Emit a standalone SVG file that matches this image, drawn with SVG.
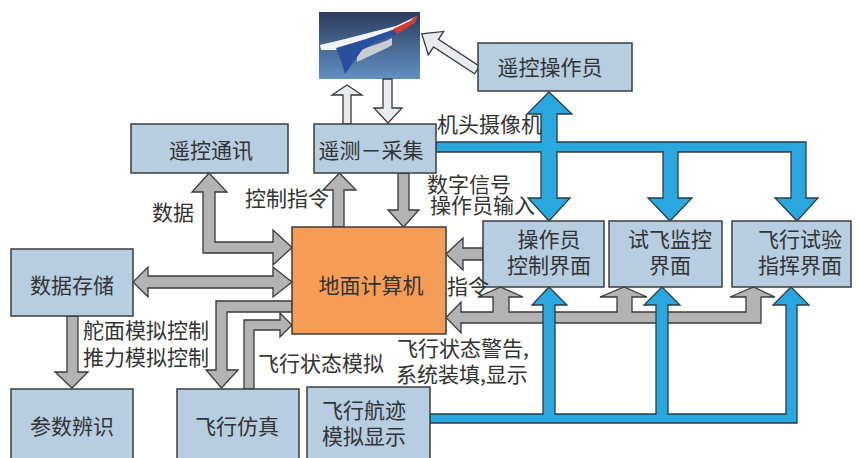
<svg xmlns="http://www.w3.org/2000/svg" width="860" height="458" viewBox="0 0 860 458">
  <defs>
    <linearGradient id="sky" x1="0" y1="0" x2="0" y2="1">
      <stop offset="0" stop-color="#2c3d5e"/>
      <stop offset="1" stop-color="#6290c2"/>
    </linearGradient>
    <style>
      .box { fill: #b7cde1; stroke: #3d3d3d; stroke-width: 1.5; }
      .cpu { fill: #f59d56; stroke: #3d3d3d; stroke-width: 1.5; }
      .gray { fill: #b3b3b3; stroke: #3a3a3a; stroke-width: 1.3; stroke-linejoin: miter; }
      .blue { fill: #29a7df; stroke: #2f3a44; stroke-width: 1.3; stroke-linejoin: miter; }
      .hollow { fill: #e9ebef; stroke: #3a3a3a; stroke-width: 1.3; }
      text { font-family: "Noto Sans CJK SC", "Noto Sans", sans-serif; font-size: 21px; fill: #333; }
      .c { text-anchor: middle; }
    </style>
  </defs>

  <rect width="860" height="458" fill="#fff"/>

  <!-- aircraft picture -->
  <g id="aircraft">
    <rect x="319" y="12" width="101" height="67" fill="url(#sky)"/>
    <polygon points="320,45 345,39 372,32 396,26 417,16 414,23 396,31 366,41 339,50 321,50" fill="#f2f4f7"/>
    <polygon points="357,51 386,41 392,38 392,45 387,48 372,55 357,62" fill="#c9ccd2"/>
    <polygon points="336,48 366,39 395,29 397,34 376,42 362,50 355,60 345,74 341,61" fill="#2a4f9e"/>
    <polygon points="393,29 410,21 417,15 416,21 410,26 397,34" fill="#d63a35"/>
  </g>

  <g id="connectors">
    <!-- aircraft links -->
    <polygon class="hollow" points="343,124 343,95 332,95 347,85 362,95 351,95 351,124"/>
    <polygon class="hollow" points="383,79 383,108 374,108 388,123 402,108 392,108 392,79"/>
    <polygon class="hollow" transform="translate(477,70) rotate(213.2)" points="0,-4.5 49,-4.5 49,-14 66,0 49,14 49,4.5 0,4.5"/>

    <!-- 数据 to 遥控通讯 and 地面计算机 -->
    <polygon class="gray" points="203,253 203,192 192,192 209,173 227,192 215,192 215,242 273,242 273,230 292,247.5 273,265 273,253"/>
    <!-- 数据存储 <-> 地面计算机 -->
    <polygon class="gray" points="133,282 148,267 148,276 273,276 273,267 292,282 273,297 273,288 148,288 148,297"/>
    <!-- 地面计算机 to 飞行仿真 -->
    <polygon class="gray" points="292,301 216,301 216,370 206,370 221.5,388 238,370 227,370 227,312 292,312"/>
    <!-- 飞行仿真 to 地面计算机 -->
    <polygon class="gray" points="244,389 244,320 280,320 280,313 292,325 280,337 280,330 254,330 254,389"/>
    <!-- 数据存储 to 参数辨识 -->
    <polygon class="gray" points="67,316 67,372 55,372 72,388 88,372 78,372 78,316"/>
    <!-- 控制指令 up to 遥测 -->
    <polygon class="gray" points="333,227 333,190 323,190 339.5,173 356,190 344,190 344,227"/>
    <!-- 遥测 down to 地面计算机 -->
    <polygon class="gray" points="398,173 398,210 388,210 403.5,227 419,210 409,210 409,173"/>
    <!-- 操作员输入 -->
    <polygon class="gray" points="483,248 463,248 463,238 446,254 463,270 463,260 483,260"/>
    <!-- 指令 bus to interfaces, status back to 地面计算机 -->
    <polygon class="gray" points="761,323 761,297 775,297 753.5,287 730,297 746,297 746,312 632,312 632,297 647,297 624,287 600,297 617,297 617,312 509,312 509,297 523,297 500.5,287 478,297 493,297 493,312 461,312 461,302 446,317.5 461,333 461,323"/>

    <!-- camera video bus -->
    <polygon class="blue" points="436,142 541,142 541,114 527,114 549,92 572,114 557,114 557,142 806,142 806,198 818,198 797,221 775,198 791,198 791,152 678,152 678,198 692,198 670,221 648,198 663,198 663,152 557,152 557,198 570,198 549,221 528,198 541,198 541,152 436,152"/>
    <!-- trajectory display bus -->
    <polygon class="blue" points="430,414 543,414 543,305 532,305 549,287 567,305 555,305 555,414 656,414 656,305 644,305 662,287 680,305 668,305 668,414 786,414 786,305 773,305 791,287 809,305 797,305 797,423 430,423"/>
  </g>

  <g id="n-remote-operator">
    <rect class="box" x="478" y="43" width="154" height="48"/>
    <text class="c" x="550" y="75">遥控操作员</text>
  </g>
  <g id="n-remote-comm">
    <rect class="box" x="131" y="124" width="157" height="49"/>
    <text class="c" x="211" y="158">遥控通讯</text>
  </g>
  <g id="n-telemetry">
    <rect class="box" x="314" y="124" width="122" height="49"/>
    <text class="c" x="371" y="158">遥测－采集</text>
  </g>
  <g id="n-ground-computer">
    <rect class="cpu" x="292" y="227" width="154" height="107"/>
    <text class="c" x="371" y="293">地面计算机</text>
  </g>
  <g id="n-operator-ui">
    <rect class="box" x="483" y="221" width="121" height="66"/>
    <text class="c" x="549" y="247">操作员</text>
    <text class="c" x="549" y="273">控制界面</text>
  </g>
  <g id="n-monitor-ui">
    <rect class="box" x="609" y="221" width="113" height="66"/>
    <text class="c" x="670" y="247">试飞监控</text>
    <text class="c" x="670" y="273">界面</text>
  </g>
  <g id="n-command-ui">
    <rect class="box" x="732" y="221" width="119" height="66"/>
    <text class="c" x="800" y="247">飞行试验</text>
    <text class="c" x="800" y="273">指挥界面</text>
  </g>
  <g id="n-storage">
    <rect class="box" x="11" y="249" width="122" height="67"/>
    <text class="c" x="72" y="293">数据存储</text>
  </g>
  <g id="n-identification">
    <rect class="box" x="11" y="389" width="122" height="80"/>
    <text class="c" x="72" y="434">参数辨识</text>
  </g>
  <g id="n-flight-sim">
    <rect class="box" x="177" y="389" width="122" height="80"/>
    <text class="c" x="237" y="434">飞行仿真</text>
  </g>
  <g id="n-track-display">
    <rect class="box" x="307" y="387" width="123" height="82"/>
    <text class="c" x="364" y="418">飞行航迹</text>
    <text class="c" x="364" y="444">模拟显示</text>
  </g>

  <g id="labels">
    <text x="437" y="132">机头摄像机</text>
    <text x="152" y="220">数据</text>
    <text x="245" y="206">控制指令</text>
    <text x="427" y="192">数字信号</text>
    <text x="430" y="213">操作员输入</text>
    <text x="447" y="294">指令</text>
    <text x="83" y="338">舵面模拟控制</text>
    <text x="83" y="365">推力模拟控制</text>
    <text x="258" y="371">飞行状态模拟</text>
    <text x="397" y="356">飞行状态警告,</text>
    <text x="396" y="382">系统装填,显示</text>
  </g>
</svg>
